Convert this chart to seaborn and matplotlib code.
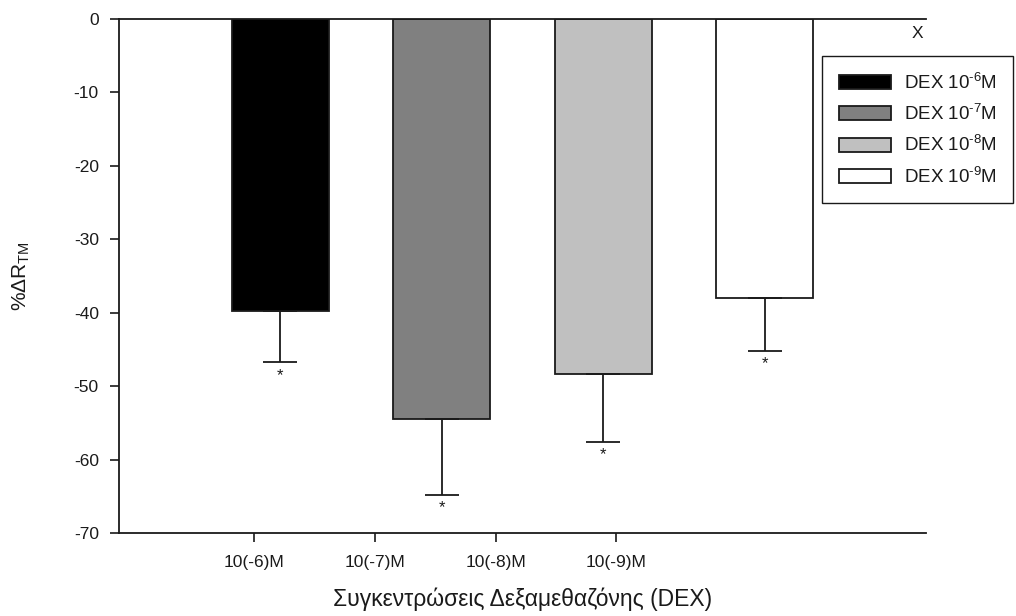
import matplotlib
matplotlib.use("Agg")
import matplotlib.pyplot as plt
import seaborn as sns
import pandas as pd

# Data
positions = [1, 2, 3, 4]
series_labels = ["DEX 10$^{\\text{-6}}$M", "DEX 10$^{\\text{-7}}$M",
                 "DEX 10$^{\\text{-8}}$M", "DEX 10$^{\\text{-9}}$M"]
values = [-39.7, -54.5, -48.3, -38.0]
errors = [7.05, 10.3, 9.3, 7.2]
colors = ["#000000", "#808080", "#c0c0c0", "#ffffff"]
tick_labels = ["10(-6)M", "10(-7)M", "10(-8)M", "10(-9)M"]
tick_positions = [0.836, 1.586, 2.336, 3.079]
yticks = [0, -10, -20, -30, -40, -50, -60, -70]

sns.set_theme(style="white")
plt.rcParams["font.family"] = ["Liberation Sans", "DejaVu Sans"]
plt.rcParams["axes.unicode_minus"] = False
plt.rcParams["mathtext.fontset"] = "custom"
plt.rcParams["mathtext.rm"] = "Liberation Sans"
plt.rcParams["mathtext.it"] = "Liberation Sans:italic"
plt.rcParams["mathtext.default"] = "regular"

ink = "#1a1a1a"

df = pd.DataFrame({"pos": positions, "value": values, "label": series_labels})

fig = plt.figure(figsize=(10.16, 6.16), dpi=100)
ax = fig.add_axes([119 / 1016, 1 - 533 / 616, (926 - 119) / 1016, (533 - 19) / 616])

sns.barplot(data=df, x="pos", y="value", hue="label", hue_order=series_labels,
            palette=colors, native_scale=True, width=0.6, dodge=False,
            edgecolor=ink, linewidth=1.3, errorbar=None, ax=ax, legend=True)

# One-sided (downward) error bars with caps
ax.errorbar(positions, values, yerr=[errors, [0] * len(errors)], fmt="none",
            ecolor=ink, elinewidth=1.3, capsize=12, capthick=1.3, zorder=5)

# Significance markers below each cap
for p, v, e in zip(positions, values, errors):
    ax.annotate("*", xy=(p, v - e), xytext=(0, -4), textcoords="offset points",
                ha="center", va="top", fontsize=12, color=ink)

ax.set_xlim(0, 5)
ax.set_ylim(-70, 0)
ax.set_yticks(yticks)
ax.set_yticklabels([str(t) for t in yticks])
ax.set_xticks(tick_positions)
ax.set_xticklabels(tick_labels)

ax.tick_params(axis="both", which="major", direction="out", length=6.5, width=1.2,
               color=ink, labelsize=12.5, labelcolor=ink,
               bottom=True, left=True)
ax.tick_params(axis="y", pad=8)
ax.tick_params(axis="x", pad=9)

for side in ["left", "bottom", "top"]:
    ax.spines[side].set_visible(True)
    ax.spines[side].set_color(ink)
    ax.spines[side].set_linewidth(1.3)
ax.spines["right"].set_visible(False)

ax.set_xlabel("Συγκεντρώσεις Δεξαμεθαζόνης (DEX)", fontsize=16.5, color=ink,
              labelpad=13)
ax.set_ylabel("%ΔR$_{TM}$", fontsize=15, color=ink, labelpad=30)

fig.text(917 / 1016, 1 - 33 / 616, "X", ha="center", va="center", fontsize=12.5,
         color=ink)

handles, labels = ax.get_legend_handles_labels()
leg = ax.legend(handles, labels, loc="upper left",
                bbox_to_anchor=(822 / 1016, 1 - 56 / 616),
                bbox_transform=fig.transFigure, frameon=True, fancybox=False,
                fontsize=13.5, handlelength=2.8, handleheight=0.78,
                handletextpad=0.68, labelspacing=0.6, borderpad=0.88,
                borderaxespad=0, edgecolor=ink, framealpha=1)
leg.get_frame().set_linewidth(1.0)
for t in leg.get_texts():
    t.set_color(ink)

fig.savefig("out.png", dpi=100)
